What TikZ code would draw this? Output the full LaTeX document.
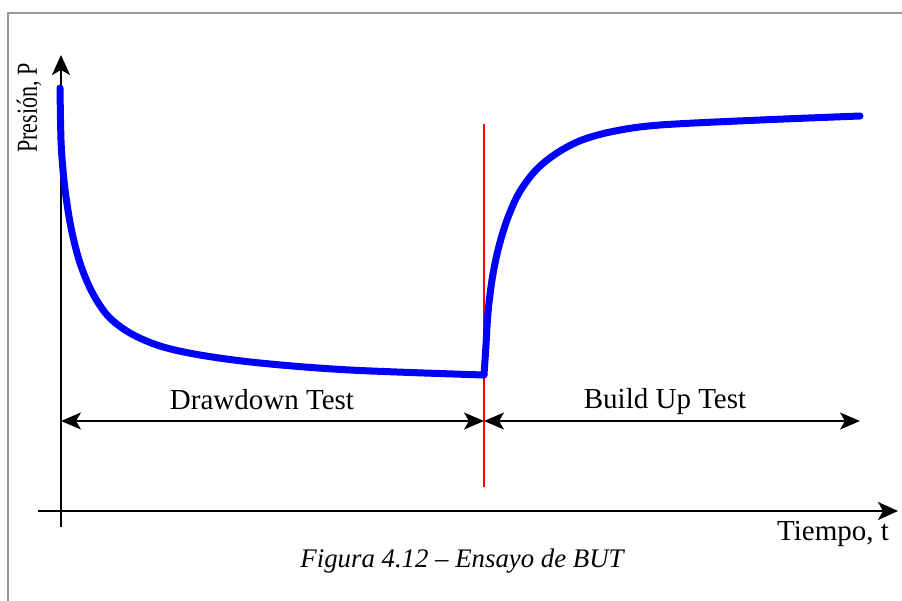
\documentclass[tikz,border=0pt]{standalone}
\usepackage{fontspec}
\setmainfont{Liberation Serif}
\usepackage{tikz}
\usetikzlibrary{positioning,arrows.meta,calc}

\begin{document}
\begin{tikzpicture}[x=0.5pt, y=-0.5pt,
    frame/.style={gray!80, line width=1pt},
    axis/.style={line width=1pt, -{Stealth[length=10pt, width=9pt, inset=2.5pt]}},
    span/.style={line width=1pt, {Stealth[length=10pt, width=8.5pt, inset=2.5pt]}-{Stealth[length=10pt, width=8.5pt, inset=2.5pt]}},
    switch/.style={red, line width=0.8pt},
    curve/.style={blue, line width=3.5pt, line join=round, line cap=round},
    txt/.style={font=\fontsize{14.5}{17}\selectfont, inner sep=0pt}]

\useasboundingbox (0,0) rectangle (902,601);

% frame
\draw [frame] (8,601) -- (8,13) -- (902,13);

% axes
\coordinate (ybot) at (61,527);
\coordinate (ytop) at (61,55);
\coordinate (xleft) at (38,511);
\coordinate (xright) at (898,511);
\draw [axis] (ybot) -- (ytop);
\draw [axis] (xleft) -- (xright);

% shut-in instant
\coordinate (shtop) at (484,124);
\coordinate (shbot) at (484,487);
\draw [switch] (shtop) -- (shbot);

% test spans
\coordinate (dstart) at (61,421);
\coordinate (dend) at (484,421);
\coordinate (bend) at (860,421);
\draw [span] (dstart) -- (dend);
\draw [span] (dend) -- (bend);

% pressure curve
\draw [curve] plot[smooth, tension=0.55] coordinates {(60,88) (61,140) (63,170) (66,197) (71.5,230) (80,263) (92,292) (108,316) (130,333) (160,346) (200,355) (260,363) (350,370) (484,375)};
\draw [curve] plot[smooth, tension=0.55] coordinates {(484,375) (486,345) (488,313) (492,280) (498,250) (507,220) (519,193) (536,170) (557,153) (582,140) (615,131) (660,125) (760,120) (860,116)};

% labels
\node [txt, anchor=base] (ddlabel) at (262,409) {Drawdown Test};
\node [txt, anchor=base] (bulabel) at (665,408) {Build Up Test};
\node [txt, anchor=base] (tlabel) at (833,540) {Tiempo, t};
\node [txt, anchor=base, rotate=90] (plabel) at (37,108) {\scalebox{0.76}[1]{Presión, P}};
\node [txt, anchor=base, font=\fontsize{13.4}{16}\selectfont\itshape] (caption) at (462,567) {Figura 4.12 – Ensayo de BUT};

\end{tikzpicture}
\end{document}
